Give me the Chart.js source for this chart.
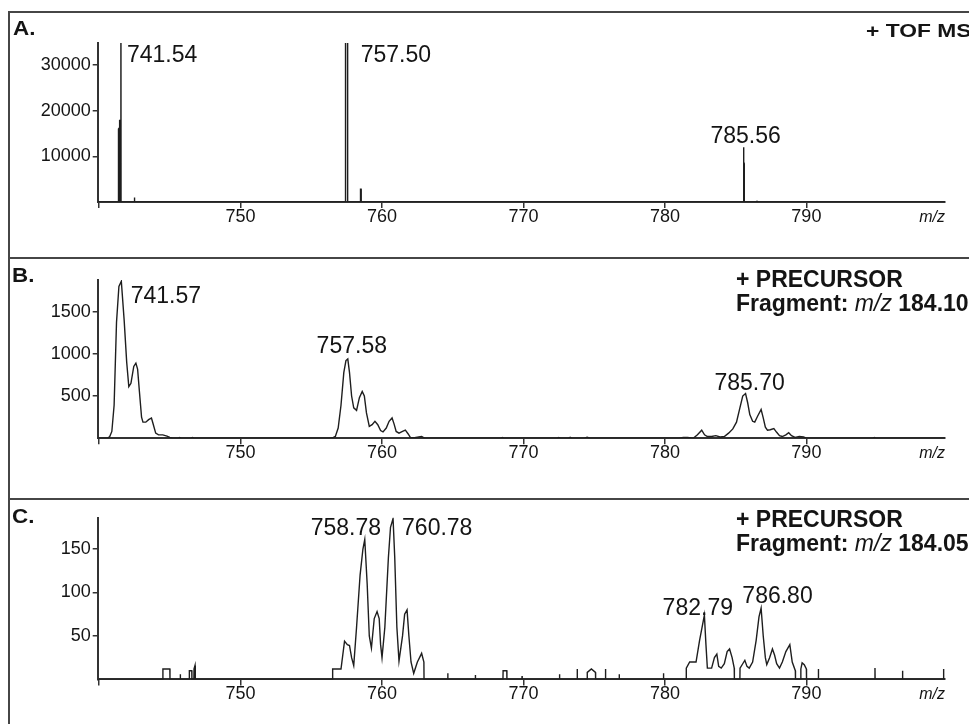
<!DOCTYPE html>
<html>
<head>
<meta charset="utf-8">
<script src="https://cdn.jsdelivr.net/npm/chart.js@4.4.1/dist/chart.umd.min.js"></script>
<style>
  html, body { margin: 0; padding: 0; background: #fff; overflow: hidden; width: 969px; height: 724px; }
  canvas { position: absolute; left: 0; }
  .frame { position: absolute; border: 2px solid #464646; box-sizing: border-box; }
</style>
</head>
<body>
<div class="frame" style="left:8px;top:11px;width:1000px;height:248px"></div>
<div class="frame" style="left:8px;top:257px;width:1000px;height:243px"></div>
<div class="frame" style="left:8px;top:498px;width:1000px;height:300px"></div>
<canvas id="panelA" width="969" height="258" style="top:0px"></canvas>
<canvas id="panelB" width="969" height="241" style="top:258px"></canvas>
<canvas id="panelC" width="969" height="225" style="top:499px"></canvas>
<script>
// ---- m/z axis ----
const mzRange = [739.9, 799.8];
const mzTicks = [740, 750, 760, 770, 780, 790];

// ---- A: + TOF MS (profile sticks) ----
const tofMz = [739.9, 741.36, 741.37, 741.42, 741.43, 741.47, 741.53, 741.54, 741.55,
  742.49, 742.50, 742.51, 757.41, 757.42, 757.50, 757.56, 757.57,
  758.47, 758.48, 758.52, 758.53, 785.54, 785.55, 785.56, 785.58, 785.59, 785.6, 785.61,
  786.49, 786.50, 786.51, 799.8];
const tofIntensity = [0, 0, 16000, 16200, 18000, 0, 0, 62000, 0,
  0, 1000, 0, 0, 58000, 64000, 56000, 0,
  0, 2800, 2800, 0, 0, 11000, 12000, 9000, 8500, 8500, 0,
  0, 300, 0, 0];
const tofYTicks = [10000, 20000, 30000];
const tofYMax = 34800;
const tofPeaks = [741.54, 757.50, 785.56];

// ---- B: + PRECURSOR, fragment m/z 184.10 ----
const prec10Mz = [739.9, 740.6, 740.75, 740.9, 741.06, 741.23, 741.4, 741.57, 741.77,
  741.95, 742.1, 742.25, 742.45, 742.6, 742.72, 742.85, 743.0, 743.1,
  743.3, 743.5, 743.7, 743.8, 744.0, 744.2, 744.5, 744.8, 745.0, 745.2,
  745.6, 745.7, 745.8, 746.5, 746.6, 746.7, 756.3, 756.5, 756.7, 756.9,
  757.1, 757.3, 757.45, 757.58, 757.7, 757.85, 758.0, 758.2, 758.4, 758.6,
  758.75, 758.9, 759.1, 759.3, 759.5, 759.7, 759.9, 760.07, 760.3, 760.5,
  760.71, 760.85, 761.0, 761.2, 761.45, 761.65, 761.85, 762.0, 762.3, 762.6,
  762.8, 763.0, 768.4, 768.5, 768.6, 772.4, 772.5, 772.6, 773.2, 773.3,
  773.4, 774.3, 774.5, 774.7, 781.0, 781.3, 781.6, 782.0, 782.3, 782.6,
  782.8, 783.0, 783.3, 783.6, 783.9, 784.2, 784.5, 784.8, 785.06, 785.3,
  785.5, 785.7, 785.85, 786.0, 786.2, 786.35, 786.55, 786.8, 786.95, 787.1,
  787.25, 787.45, 787.7, 787.9, 788.1, 788.3, 788.55, 788.75, 788.95, 789.2,
  789.5, 789.8, 790.0, 794.7, 794.8, 794.9, 799.8];
const prec10Intensity = [0, 0, 20, 80, 390, 1375, 1800, 1860, 1400,
  900, 610, 650, 850, 890, 820, 550, 250, 190,
  190, 220, 240, 180, 60, 40, 40, 25, 10, 0,
  0, 8, 0, 0, 8, 0, 0, 5, 20, 120,
  390, 780, 920, 940, 780, 500, 360, 330, 480, 555,
  500, 300, 140, 160, 200, 160, 90, 75, 120, 200,
  240, 170, 80, 60, 80, 95, 50, 10, 5, 15,
  20, 0, 0, 8, 0, 0, 8, 0, 0, 10,
  0, 0, 12, 0, 0, 10, 10, 0, 40, 95,
  40, 20, 20, 30, 15, 20, 60, 110, 190, 360,
  500, 530, 420, 280, 200, 190, 260, 340, 240, 130,
  95, 100, 115, 70, 30, 20, 40, 65, 30, 10,
  20, 15, 0, 0, 8, 0, 0];
const prec10YTicks = [500, 1000, 1500];
const prec10YMax = 1875;
const prec10Peaks = [741.57, 757.58, 785.70];

// ---- C: + PRECURSOR, fragment m/z 184.05 ----
const prec05Mz = [739.9,
  744.5, 744.51, 745.0, 745.01, 745.73, 745.74, 745.75,
  746.37, 746.38, 746.55, 746.56, 746.7, 746.71, 746.78, 746.8,
  756.5, 756.51, 757.1, 757.35, 757.55, 757.7, 757.85, 758.0, 758.2, 758.45,
  758.65, 758.78, 758.95, 759.1, 759.25, 759.45, 759.65, 759.8, 759.9, 760.0,
  760.2, 760.45, 760.6, 760.78, 760.9, 761.05, 761.2, 761.45, 761.6, 761.77,
  761.9, 762.05, 762.24, 762.5, 762.8, 762.96, 762.97,
  764.64, 764.65, 764.66, 766.59, 766.6, 766.61, 768.55, 768.56, 768.82, 768.83,
  769.89, 769.9, 769.91, 772.54, 772.55, 772.56, 773.79, 773.8, 773.81,
  774.5, 774.51, 774.8, 775.09, 775.1, 775.79, 775.8, 775.81, 776.76, 776.77, 776.78,
  779.89, 779.9, 779.91,
  781.5, 781.51, 781.75, 782.2, 782.45, 782.79, 782.9, 783.0, 783.3, 783.5,
  783.67, 783.8, 783.98, 784.2, 784.4, 784.57, 784.75, 784.9, 784.91,
  785.3, 785.31, 785.5, 785.65, 785.8, 785.96, 786.2, 786.45, 786.65, 786.8,
  786.95, 787.1, 787.2, 787.4, 787.6, 787.75, 787.9, 788.1, 788.3, 788.55,
  788.83, 789.0, 789.22, 789.23,
  789.6, 789.61, 789.7, 789.85, 790.0, 790.01,
  790.84, 790.85, 790.86, 794.84, 794.85, 794.86, 796.79, 796.8, 796.81,
  799.69, 799.7, 799.71, 799.8];
const prec05Intensity = [0,
  0, 12, 12, 0, 0, 6, 0,
  0, 10, 10, 0, 0, 12, 16, 0,
  0, 12, 12, 44, 40, 39, 25, 16, 60, 120,
  150, 161, 110, 50, 36, 70, 78, 70, 40, 25,
  60, 140, 175, 185, 140, 60, 21, 50, 75, 80,
  50, 20, 7, 20, 30, 20, 0,
  0, 7, 0, 0, 5, 0, 0, 10, 10, 0,
  0, 4, 0, 0, 6, 0, 0, 12, 0,
  0, 8, 12, 8, 0, 0, 12, 0, 0, 6, 0,
  0, 7, 0,
  0, 13, 20, 20, 45, 74, 40, 13, 13, 25,
  29, 15, 13, 18, 32, 35, 25, 13, 0,
  0, 13, 18, 22, 15, 13, 20, 45, 72, 82,
  50, 25, 17, 25, 35, 28, 18, 13, 20, 32,
  40, 20, 10, 0,
  0, 12, 19, 17, 12, 0,
  0, 12, 0, 0, 13, 0, 0, 10, 0,
  0, 12, 0, 0];
const prec05YTicks = [50, 100, 150];
const prec05YMax = 186;
const prec05Peaks = [758.78, 760.78, 782.79, 786.80];

// ---- drawing helpers ----
const FONT = '"Liberation Sans", Arial, Helvetica, sans-serif';
const INK = '#141414';

function points(xs, ys) { return xs.map((x, i) => ({ x: x, y: ys[i] })); }

// Writes the panel letter, the scan description, the peak labels and the m/z axis title.
const panelText = {
  id: 'panelText',
  afterDraw(chart, args, o) {
    const ctx = chart.ctx, xs = chart.scales.x, area = chart.chartArea;
    ctx.save();
    ctx.fillStyle = INK;
    ctx.textBaseline = 'alphabetic';

    // panel letter (wide bold face)
    ctx.save();
    ctx.translate(o.letterX, o.letterY);
    ctx.scale(1.12, 1);
    ctx.font = 'bold 20px ' + FONT;
    ctx.textAlign = 'left';
    ctx.fillText(o.letter, 0, 0);
    ctx.restore();

    // scan description, one line per entry, each made of styled runs
    o.header.forEach((line, li) => {
      ctx.save();
      ctx.translate(o.headerX, o.headerY[li]);
      ctx.scale(o.headerScale, 1);
      let x = 0;
      line.forEach(run => {
        ctx.font = run.f + ' ' + o.headerSize + 'px ' + FONT;
        ctx.textAlign = 'left';
        ctx.fillText(run.t, x, 0);
        x += ctx.measureText(run.t).width;
      });
      ctx.restore();
    });

    // peak labels
    ctx.font = '23px ' + FONT;
    o.peaks.forEach((mz, i) => {
      const s = o.peakStyle[i];
      ctx.textAlign = s.align;
      ctx.fillText(mz.toFixed(2), xs.getPixelForValue(mz) + s.dx, s.y);
    });

    // axis title
    ctx.font = 'italic 16px ' + FONT;
    ctx.textAlign = 'right';
    ctx.fillText('m/z', area.right, area.bottom + 19.5);
    ctx.restore();
  }
};

function makePanel(id, mz, intensity, yTicks, yMax, pad, text) {
  return new Chart(document.getElementById(id), {
    type: 'line',
    data: {
      datasets: [{
        data: points(mz, intensity),
        borderColor: '#1e1e1e',
        borderWidth: 1.4,
        pointRadius: 0,
        tension: 0,
        fill: false,
        clip: 0
      }]
    },
    options: {
      responsive: false,
      animation: false,
      devicePixelRatio: 1,
      parsing: false,
      layout: { padding: pad },
      plugins: { legend: { display: false }, tooltip: { enabled: false }, panelText: text },
      scales: {
        x: {
          type: 'linear',
          min: mzRange[0],
          max: mzRange[1],
          afterBuildTicks: s => { s.ticks = mzTicks.map(v => ({ value: v })); },
          afterFit: s => { s.height = 40; },
          grid: { drawOnChartArea: false, drawTicks: true, tickLength: 6, color: '#333', lineWidth: 1.5 },
          border: { display: true, color: '#333', width: 2 },
          ticks: {
            color: INK,
            padding: -2,
            maxRotation: 0,
            autoSkip: false,
            font: { family: FONT, size: 18 },
            callback: v => (v === mzTicks[0] ? '' : String(v))
          }
        },
        y: {
          min: 0,
          max: yMax,
          afterBuildTicks: s => { s.ticks = yTicks.map(v => ({ value: v })); },
          afterFit: s => { s.width = 90; },
          grid: { drawOnChartArea: false, drawTicks: true, tickLength: 5, color: '#333', lineWidth: 1.5 },
          border: { display: true, color: '#333', width: 2 },
          ticks: {
            color: INK,
            padding: 2,
            autoSkip: false,
            font: { family: FONT, size: 18 },
            callback: v => String(v)
          }
        }
      }
    },
    plugins: [panelText]
  });
}

const precursorHeader = frag => [
  [{ f: 'bold', t: '+ PRECURSOR' }],
  [{ f: 'bold', t: 'Fragment: ' }, { f: 'italic', t: 'm/z' }, { f: 'bold', t: ' ' + frag }]
];

makePanel('panelA', tofMz, tofIntensity, tofYTicks, tofYMax,
  { left: 7.7, right: 24, top: 43, bottom: 16 },
  {
    letter: 'A.', letterX: 13, letterY: 35,
    header: [[{ f: 'bold', t: '+ TOF MS' }]], headerX: 866, headerY: [36.5], headerSize: 19, headerScale: 1.2,
    peaks: tofPeaks,
    peakStyle: [{ dx: 6, align: 'left', y: 61.5 }, { dx: 14, align: 'left', y: 61.5 }, { dx: 2, align: 'center', y: 143 }]
  });

makePanel('panelB', prec10Mz, prec10Intensity, prec10YTicks, prec10YMax,
  { left: 7.7, right: 24, top: 22, bottom: 20.8 },
  {
    letter: 'B.', letterX: 12, letterY: 23.7,
    header: precursorHeader('184.10'), headerX: 736, headerY: [28.7, 52.8], headerSize: 23, headerScale: 1,
    peaks: prec10Peaks,
    peakStyle: [{ dx: 9.4, align: 'left', y: 45.2 }, { dx: 4, align: 'center', y: 95.2 }, { dx: 4, align: 'center', y: 131.8 }]
  });

makePanel('panelC', prec05Mz, prec05Intensity, prec05YTicks, prec05YMax,
  { left: 7.7, right: 24, top: 18.7, bottom: 4.6 },
  {
    letter: 'C.', letterX: 12, letterY: 24.3,
    header: precursorHeader('184.05'), headerX: 736, headerY: [27.5, 51.8], headerSize: 23, headerScale: 1,
    peaks: prec05Peaks,
    peakStyle: [{ dx: 16.3, align: 'right', y: 35.8 }, { dx: 9, align: 'left', y: 35.8 }, { dx: -6.6, align: 'center', y: 115.8 }, { dx: 16.4, align: 'center', y: 104.2 }]
  });
</script>
</body>
</html>
